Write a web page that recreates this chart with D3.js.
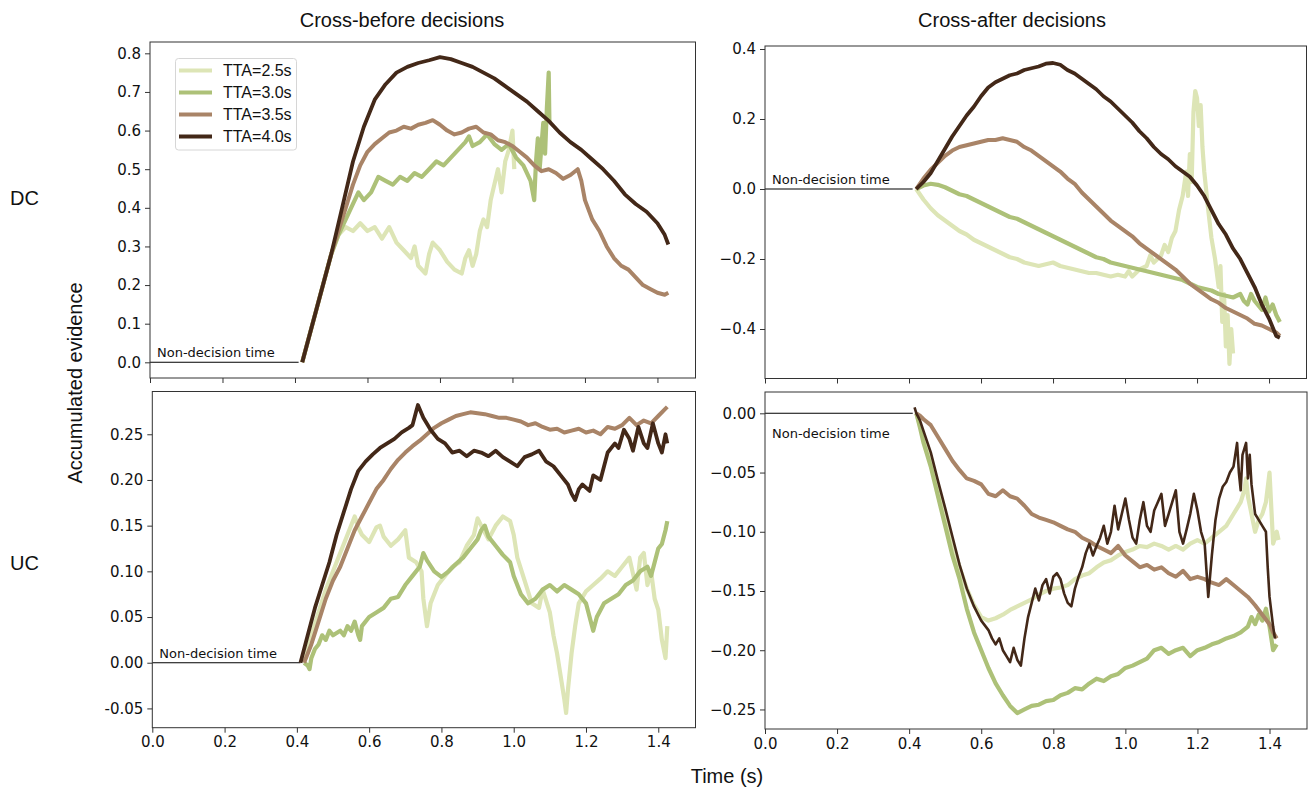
<!DOCTYPE html>
<html><head><meta charset="utf-8">
<script src="https://cdn.jsdelivr.net/npm/d3@7"></script>
<style>body{margin:0;background:#fff}svg{display:block}</style>
</head><body>
<svg id="chart" width="1309" height="790"></svg>
<script>
const seriesNames = ["TTA=2.5s","TTA=3.0s","TTA=3.5s","TTA=4.0s"];
const seriesColors = ["#dde5b6","#adc178","#a98467","#432818"];
const xTicks = [0.0,0.2,0.4,0.6,0.8,1.0,1.2,1.4];
const ticksDCBefore = [0.0,0.1,0.2,0.3,0.4,0.5,0.6,0.7,0.8];
const ticksDCAfter = [-0.4,-0.2,0.0,0.2,0.4];
const ticksUCBefore = [-0.05,0.00,0.05,0.10,0.15,0.20,0.25];
const ticksUCAfter = [-0.25,-0.20,-0.15,-0.10,-0.05,0.00];
const nonDecisionEnd = 0.41;

// DC, cross-before  [time, evidence]
const dcBefore25 = [[0.42,0],[0.46,0.14],[0.50,0.28],[0.52,0.33],[0.54,0.35],[0.56,0.34],[0.58,0.36],[0.60,0.34],[0.62,0.35],[0.64,0.32],[0.66,0.35],[0.68,0.31],[0.70,0.29],[0.72,0.27],[0.73,0.30],[0.74,0.25],[0.76,0.23],[0.77,0.28],[0.78,0.31],[0.80,0.29],[0.82,0.26],[0.84,0.24],[0.86,0.23],[0.87,0.27],[0.88,0.29],[0.89,0.25],[0.90,0.28],[0.91,0.34],[0.92,0.37],[0.93,0.35],[0.94,0.42],[0.95,0.46],[0.96,0.50],[0.97,0.44],[0.98,0.52],[0.99,0.55],[1.00,0.60],[1.005,0.50]];
const dcBefore30 = [[0.42,0],[0.46,0.14],[0.50,0.28],[0.52,0.33],[0.54,0.37],[0.56,0.41],[0.575,0.44],[0.59,0.42],[0.61,0.44],[0.63,0.48],[0.65,0.47],[0.67,0.46],[0.69,0.48],[0.71,0.47],[0.73,0.49],[0.75,0.48],[0.77,0.50],[0.79,0.52],[0.81,0.51],[0.83,0.53],[0.85,0.55],[0.87,0.57],[0.88,0.585],[0.89,0.56],[0.91,0.57],[0.93,0.59],[0.95,0.565],[0.97,0.55],[0.99,0.565],[1.01,0.53],[1.03,0.51],[1.05,0.47],[1.06,0.42],[1.065,0.52],[1.07,0.58],[1.075,0.50],[1.08,0.56],[1.085,0.62],[1.09,0.54],[1.095,0.66],[1.10,0.75],[1.102,0.62]];
const dcBefore35 = [[0.42,0],[0.46,0.14],[0.50,0.28],[0.52,0.34],[0.54,0.40],[0.56,0.46],[0.58,0.51],[0.60,0.545],[0.62,0.565],[0.64,0.58],[0.66,0.595],[0.68,0.60],[0.70,0.61],[0.72,0.605],[0.74,0.615],[0.76,0.62],[0.78,0.627],[0.80,0.615],[0.82,0.60],[0.84,0.59],[0.86,0.595],[0.88,0.605],[0.90,0.61],[0.92,0.595],[0.94,0.59],[0.96,0.575],[0.98,0.57],[1.00,0.56],[1.02,0.545],[1.04,0.53],[1.06,0.51],[1.08,0.495],[1.10,0.50],[1.12,0.49],[1.14,0.475],[1.16,0.485],[1.18,0.50],[1.19,0.47],[1.20,0.42],[1.22,0.37],[1.24,0.34],[1.26,0.30],[1.28,0.27],[1.30,0.25],[1.32,0.24],[1.34,0.22],[1.36,0.20],[1.38,0.19],[1.40,0.18],[1.42,0.175],[1.43,0.18]];
const dcBefore40 = [[0.42,0],[0.46,0.14],[0.50,0.28],[0.53,0.40],[0.56,0.52],[0.59,0.61],[0.62,0.68],[0.65,0.72],[0.68,0.75],[0.71,0.765],[0.74,0.775],[0.77,0.782],[0.80,0.79],[0.83,0.785],[0.86,0.775],[0.89,0.765],[0.92,0.75],[0.95,0.735],[0.98,0.715],[1.01,0.695],[1.04,0.675],[1.07,0.65],[1.10,0.625],[1.13,0.595],[1.16,0.57],[1.19,0.55],[1.22,0.525],[1.25,0.50],[1.28,0.47],[1.31,0.435],[1.34,0.41],[1.37,0.39],[1.40,0.36],[1.42,0.33],[1.43,0.305]];

// DC, cross-after
const dcAfter25 = [[0.42,0],[0.44,-0.03],[0.46,-0.055],[0.48,-0.075],[0.50,-0.09],[0.52,-0.105],[0.54,-0.12],[0.56,-0.13],[0.58,-0.145],[0.60,-0.155],[0.62,-0.165],[0.64,-0.175],[0.66,-0.185],[0.68,-0.195],[0.70,-0.20],[0.72,-0.21],[0.74,-0.215],[0.76,-0.22],[0.78,-0.215],[0.80,-0.21],[0.82,-0.22],[0.84,-0.225],[0.86,-0.23],[0.88,-0.235],[0.90,-0.24],[0.92,-0.24],[0.94,-0.245],[0.96,-0.25],[0.98,-0.245],[1.00,-0.25],[1.01,-0.235],[1.02,-0.25],[1.04,-0.23],[1.06,-0.22],[1.07,-0.19],[1.08,-0.21],[1.10,-0.19],[1.11,-0.16],[1.12,-0.18],[1.13,-0.14],[1.14,-0.12],[1.15,-0.06],[1.16,-0.02],[1.17,0.05],[1.175,-0.02],[1.18,0.10],[1.185,0.02],[1.19,0.22],[1.195,0.28],[1.20,0.26],[1.205,0.18],[1.21,0.24],[1.215,0.12],[1.22,0.05],[1.23,-0.05],[1.24,-0.14],[1.25,-0.20],[1.26,-0.28],[1.265,-0.22],[1.27,-0.38],[1.275,-0.30],[1.28,-0.45],[1.285,-0.36],[1.29,-0.50],[1.295,-0.40],[1.30,-0.47]];
const dcAfter30 = [[0.42,0],[0.44,0.01],[0.46,0.015],[0.48,0.012],[0.50,0.005],[0.52,-0.005],[0.54,-0.015],[0.56,-0.02],[0.58,-0.03],[0.60,-0.04],[0.62,-0.05],[0.64,-0.06],[0.66,-0.07],[0.68,-0.08],[0.70,-0.085],[0.72,-0.095],[0.74,-0.105],[0.76,-0.115],[0.78,-0.125],[0.80,-0.135],[0.82,-0.145],[0.84,-0.155],[0.86,-0.165],[0.88,-0.175],[0.90,-0.185],[0.92,-0.195],[0.94,-0.20],[0.96,-0.21],[0.98,-0.215],[1.00,-0.22],[1.02,-0.225],[1.04,-0.23],[1.06,-0.235],[1.08,-0.24],[1.10,-0.245],[1.12,-0.25],[1.14,-0.255],[1.16,-0.26],[1.18,-0.27],[1.20,-0.28],[1.22,-0.285],[1.24,-0.29],[1.26,-0.30],[1.28,-0.305],[1.30,-0.31],[1.32,-0.30],[1.33,-0.32],[1.34,-0.33],[1.35,-0.30],[1.36,-0.32],[1.38,-0.345],[1.39,-0.31],[1.40,-0.35],[1.41,-0.33],[1.42,-0.36],[1.43,-0.38]];
const dcAfter35 = [[0.42,0],[0.44,0.03],[0.46,0.055],[0.48,0.075],[0.50,0.095],[0.52,0.11],[0.54,0.12],[0.56,0.125],[0.58,0.13],[0.60,0.135],[0.62,0.14],[0.64,0.14],[0.66,0.145],[0.68,0.14],[0.70,0.135],[0.72,0.12],[0.74,0.11],[0.76,0.095],[0.78,0.08],[0.80,0.065],[0.82,0.05],[0.84,0.03],[0.86,0.015],[0.88,-0.01],[0.90,-0.03],[0.92,-0.05],[0.94,-0.07],[0.96,-0.09],[0.98,-0.105],[1.00,-0.12],[1.02,-0.135],[1.04,-0.155],[1.06,-0.17],[1.08,-0.185],[1.10,-0.20],[1.12,-0.215],[1.14,-0.23],[1.16,-0.25],[1.18,-0.27],[1.20,-0.285],[1.22,-0.30],[1.24,-0.315],[1.26,-0.325],[1.28,-0.34],[1.30,-0.35],[1.32,-0.36],[1.34,-0.37],[1.36,-0.385],[1.38,-0.39],[1.40,-0.40],[1.42,-0.41],[1.43,-0.42]];
const dcAfter40 = [[0.42,0],[0.44,0.02],[0.46,0.045],[0.48,0.08],[0.50,0.115],[0.52,0.15],[0.54,0.18],[0.56,0.21],[0.58,0.235],[0.60,0.265],[0.62,0.29],[0.64,0.305],[0.66,0.315],[0.68,0.325],[0.70,0.33],[0.72,0.34],[0.74,0.345],[0.76,0.35],[0.78,0.358],[0.80,0.36],[0.82,0.355],[0.84,0.34],[0.86,0.33],[0.88,0.315],[0.90,0.30],[0.92,0.285],[0.94,0.265],[0.96,0.25],[0.98,0.23],[1.00,0.21],[1.02,0.19],[1.04,0.165],[1.06,0.145],[1.08,0.12],[1.10,0.10],[1.12,0.085],[1.14,0.065],[1.16,0.05],[1.18,0.035],[1.20,0.01],[1.22,-0.02],[1.24,-0.06],[1.26,-0.10],[1.28,-0.13],[1.30,-0.17],[1.32,-0.20],[1.34,-0.24],[1.36,-0.28],[1.38,-0.33],[1.40,-0.37],[1.42,-0.42],[1.43,-0.425]];

// UC, cross-before
const ucBefore25 = [[0.42,0],[0.44,0.03],[0.46,0.055],[0.48,0.08],[0.50,0.10],[0.52,0.12],[0.54,0.14],[0.56,0.16],[0.57,0.148],[0.58,0.14],[0.60,0.132],[0.62,0.148],[0.63,0.15],[0.64,0.138],[0.66,0.128],[0.68,0.135],[0.70,0.145],[0.71,0.115],[0.73,0.11],[0.745,0.10],[0.75,0.07],[0.76,0.04],[0.77,0.065],[0.79,0.085],[0.81,0.095],[0.83,0.105],[0.85,0.11],[0.87,0.128],[0.89,0.14],[0.90,0.158],[0.91,0.15],[0.93,0.135],[0.95,0.15],[0.97,0.16],[0.99,0.155],[1.00,0.14],[1.01,0.115],[1.03,0.09],[1.05,0.065],[1.07,0.06],[1.08,0.08],[1.10,0.055],[1.11,0.03],[1.12,0.01],[1.13,-0.015],[1.14,-0.04],[1.145,-0.055],[1.15,-0.03],[1.16,0.01],[1.17,0.04],[1.18,0.065],[1.20,0.078],[1.22,0.085],[1.24,0.092],[1.26,0.10],[1.28,0.095],[1.30,0.105],[1.32,0.115],[1.34,0.08],[1.35,0.115],[1.36,0.12],[1.37,0.085],[1.38,0.10],[1.39,0.07],[1.40,0.058],[1.41,0.025],[1.42,0.005],[1.425,0.04]];
const ucBefore30 = [[0.42,0],[0.43,-0.003],[0.435,-0.007],[0.44,0.005],[0.45,0.015],[0.46,0.02],[0.47,0.03],[0.48,0.025],[0.49,0.035],[0.50,0.03],[0.52,0.035],[0.53,0.03],[0.54,0.04],[0.55,0.035],[0.56,0.045],[0.57,0.03],[0.575,0.025],[0.58,0.04],[0.60,0.05],[0.62,0.055],[0.64,0.06],[0.66,0.07],[0.68,0.072],[0.70,0.085],[0.72,0.095],[0.74,0.105],[0.75,0.12],[0.76,0.112],[0.78,0.10],[0.80,0.094],[0.82,0.10],[0.84,0.108],[0.86,0.115],[0.88,0.125],[0.90,0.135],[0.91,0.145],[0.92,0.15],[0.93,0.138],[0.95,0.128],[0.97,0.118],[0.99,0.11],[1.00,0.095],[1.02,0.075],[1.04,0.065],[1.06,0.07],[1.08,0.08],[1.10,0.085],[1.12,0.078],[1.14,0.085],[1.16,0.08],[1.18,0.075],[1.20,0.065],[1.21,0.05],[1.22,0.035],[1.23,0.05],[1.25,0.065],[1.27,0.07],[1.29,0.075],[1.31,0.085],[1.33,0.09],[1.35,0.10],[1.37,0.105],[1.38,0.095],[1.39,0.11],[1.40,0.125],[1.41,0.13],[1.42,0.145],[1.425,0.155]];
const ucBefore35 = [[0.42,0],[0.44,0.02],[0.46,0.045],[0.48,0.07],[0.50,0.09],[0.52,0.105],[0.54,0.125],[0.56,0.145],[0.58,0.16],[0.60,0.175],[0.62,0.19],[0.64,0.20],[0.66,0.212],[0.68,0.222],[0.70,0.23],[0.72,0.237],[0.74,0.243],[0.76,0.25],[0.78,0.257],[0.80,0.262],[0.82,0.266],[0.84,0.27],[0.86,0.272],[0.88,0.274],[0.90,0.273],[0.92,0.272],[0.94,0.27],[0.96,0.268],[0.98,0.268],[1.00,0.266],[1.02,0.264],[1.04,0.26],[1.06,0.262],[1.08,0.258],[1.10,0.255],[1.12,0.256],[1.14,0.252],[1.16,0.254],[1.18,0.256],[1.20,0.252],[1.22,0.254],[1.24,0.25],[1.26,0.258],[1.28,0.256],[1.30,0.26],[1.32,0.268],[1.34,0.26],[1.36,0.265],[1.38,0.262],[1.40,0.27],[1.42,0.278],[1.425,0.28]];
const ucBefore40 = [[0.41,0],[0.43,0.03],[0.45,0.06],[0.47,0.085],[0.49,0.11],[0.51,0.14],[0.53,0.165],[0.55,0.19],[0.57,0.21],[0.59,0.22],[0.61,0.228],[0.63,0.235],[0.65,0.24],[0.67,0.245],[0.69,0.252],[0.71,0.257],[0.72,0.26],[0.73,0.275],[0.735,0.282],[0.75,0.268],[0.77,0.255],[0.79,0.245],[0.81,0.24],[0.83,0.23],[0.85,0.232],[0.87,0.226],[0.89,0.232],[0.91,0.23],[0.93,0.226],[0.95,0.232],[0.97,0.225],[0.99,0.22],[1.01,0.215],[1.03,0.225],[1.05,0.228],[1.07,0.232],[1.09,0.22],[1.11,0.215],[1.13,0.205],[1.15,0.195],[1.16,0.185],[1.17,0.178],[1.18,0.19],[1.19,0.195],[1.21,0.188],[1.22,0.205],[1.24,0.20],[1.26,0.23],[1.28,0.24],[1.29,0.235],[1.305,0.255],[1.32,0.245],[1.33,0.232],[1.345,0.258],[1.36,0.24],[1.37,0.235],[1.385,0.262],[1.40,0.24],[1.41,0.23],[1.42,0.25],[1.425,0.24]];

// UC, cross-after
const ucAfter25 = [[0.42,0],[0.43,-0.01],[0.44,-0.02],[0.46,-0.042],[0.48,-0.065],[0.50,-0.09],[0.52,-0.11],[0.54,-0.13],[0.56,-0.148],[0.58,-0.162],[0.60,-0.172],[0.62,-0.175],[0.64,-0.173],[0.66,-0.17],[0.68,-0.166],[0.70,-0.163],[0.72,-0.16],[0.74,-0.157],[0.76,-0.153],[0.78,-0.15],[0.80,-0.148],[0.82,-0.147],[0.84,-0.145],[0.86,-0.14],[0.88,-0.137],[0.90,-0.135],[0.92,-0.13],[0.94,-0.126],[0.96,-0.124],[0.98,-0.12],[1.00,-0.117],[1.02,-0.115],[1.04,-0.112],[1.06,-0.113],[1.08,-0.11],[1.10,-0.112],[1.12,-0.115],[1.14,-0.112],[1.16,-0.115],[1.18,-0.11],[1.20,-0.107],[1.22,-0.11],[1.24,-0.105],[1.26,-0.10],[1.28,-0.095],[1.30,-0.085],[1.31,-0.08],[1.32,-0.075],[1.33,-0.065],[1.335,-0.055],[1.34,-0.07],[1.35,-0.085],[1.36,-0.10],[1.37,-0.09],[1.38,-0.085],[1.39,-0.075],[1.40,-0.05],[1.405,-0.08],[1.41,-0.11],[1.42,-0.10],[1.425,-0.107]];
const ucAfter30 = [[0.42,0],[0.43,-0.012],[0.44,-0.025],[0.46,-0.045],[0.48,-0.07],[0.50,-0.095],[0.52,-0.12],[0.54,-0.14],[0.56,-0.165],[0.58,-0.185],[0.60,-0.20],[0.62,-0.215],[0.64,-0.228],[0.66,-0.238],[0.68,-0.247],[0.70,-0.253],[0.72,-0.25],[0.74,-0.247],[0.76,-0.246],[0.78,-0.243],[0.80,-0.242],[0.82,-0.238],[0.84,-0.236],[0.86,-0.232],[0.88,-0.233],[0.90,-0.228],[0.92,-0.224],[0.94,-0.226],[0.96,-0.222],[0.98,-0.22],[1.00,-0.215],[1.02,-0.213],[1.04,-0.21],[1.06,-0.207],[1.08,-0.20],[1.10,-0.198],[1.12,-0.203],[1.14,-0.20],[1.16,-0.198],[1.18,-0.205],[1.20,-0.20],[1.22,-0.198],[1.24,-0.195],[1.26,-0.193],[1.28,-0.19],[1.30,-0.188],[1.32,-0.185],[1.34,-0.18],[1.35,-0.172],[1.36,-0.178],[1.37,-0.17],[1.38,-0.175],[1.39,-0.165],[1.40,-0.18],[1.41,-0.20],[1.42,-0.195]];
const ucAfter35 = [[0.42,0],[0.43,-0.002],[0.44,-0.005],[0.46,-0.01],[0.48,-0.02],[0.50,-0.03],[0.52,-0.04],[0.54,-0.048],[0.56,-0.055],[0.58,-0.057],[0.60,-0.06],[0.62,-0.068],[0.64,-0.07],[0.66,-0.065],[0.68,-0.07],[0.70,-0.072],[0.72,-0.078],[0.74,-0.085],[0.76,-0.088],[0.78,-0.09],[0.80,-0.092],[0.82,-0.095],[0.84,-0.098],[0.86,-0.10],[0.88,-0.105],[0.90,-0.108],[0.92,-0.112],[0.94,-0.115],[0.96,-0.118],[0.98,-0.112],[1.00,-0.12],[1.02,-0.125],[1.04,-0.13],[1.06,-0.128],[1.08,-0.132],[1.10,-0.13],[1.12,-0.135],[1.14,-0.138],[1.16,-0.133],[1.18,-0.14],[1.20,-0.138],[1.22,-0.14],[1.24,-0.143],[1.26,-0.145],[1.28,-0.14],[1.30,-0.145],[1.32,-0.15],[1.34,-0.155],[1.36,-0.162],[1.38,-0.17],[1.40,-0.178],[1.41,-0.185],[1.42,-0.19]];
const ucAfter40 = [[0.415,0.005],[0.42,0],[0.43,-0.006],[0.44,-0.015],[0.46,-0.033],[0.48,-0.057],[0.50,-0.08],[0.52,-0.104],[0.54,-0.128],[0.56,-0.148],[0.58,-0.163],[0.60,-0.175],[0.62,-0.183],[0.63,-0.19],[0.64,-0.195],[0.65,-0.19],[0.66,-0.20],[0.67,-0.205],[0.68,-0.21],[0.69,-0.198],[0.70,-0.208],[0.71,-0.213],[0.72,-0.19],[0.73,-0.172],[0.74,-0.16],[0.75,-0.148],[0.76,-0.158],[0.77,-0.145],[0.78,-0.14],[0.79,-0.152],[0.80,-0.138],[0.81,-0.135],[0.82,-0.14],[0.83,-0.152],[0.84,-0.16],[0.85,-0.163],[0.86,-0.148],[0.87,-0.138],[0.88,-0.13],[0.89,-0.118],[0.90,-0.11],[0.91,-0.12],[0.92,-0.112],[0.93,-0.105],[0.94,-0.095],[0.95,-0.11],[0.96,-0.10],[0.97,-0.078],[0.98,-0.098],[0.99,-0.085],[1.00,-0.072],[1.01,-0.09],[1.02,-0.105],[1.03,-0.11],[1.04,-0.09],[1.05,-0.075],[1.06,-0.095],[1.07,-0.10],[1.08,-0.082],[1.09,-0.075],[1.10,-0.068],[1.11,-0.095],[1.12,-0.085],[1.13,-0.075],[1.14,-0.065],[1.15,-0.10],[1.16,-0.11],[1.17,-0.098],[1.18,-0.085],[1.19,-0.068],[1.20,-0.082],[1.21,-0.10],[1.22,-0.11],[1.23,-0.155],[1.24,-0.12],[1.25,-0.09],[1.26,-0.072],[1.27,-0.062],[1.28,-0.058],[1.29,-0.05],[1.30,-0.045],[1.31,-0.025],[1.315,-0.05],[1.32,-0.065],[1.325,-0.035],[1.33,-0.03],[1.335,-0.025],[1.34,-0.055],[1.345,-0.035],[1.35,-0.06],[1.36,-0.085],[1.37,-0.09],[1.38,-0.095],[1.39,-0.10],[1.395,-0.13],[1.40,-0.155],[1.41,-0.18],[1.415,-0.19]];

const panels = [
  {data:[dcBefore25,dcBefore30,dcBefore35,dcBefore40], box:[150,695.5,42,378], x:[0,1.505], y:[-0.0406,0.8293], ticks:ticksDCBefore, fmt:v=>v.toFixed(1), showX:false, ndBelow:false, legend:true, widths:[4.2,4.2,4,3.8]},
  {data:[dcAfter25,dcAfter30,dcAfter35,dcAfter40], box:[765,1306.5,46,378.5], x:[0,1.504], y:[-0.5414,0.4086], ticks:ticksDCAfter, fmt:v=>(v<0?"\u2212":"")+Math.abs(v).toFixed(1), showX:false, ndBelow:false, legend:false, widths:[4.2,4.2,4,3.8]},
  {data:[ucBefore25,ucBefore30,ucBefore35,ucBefore40], box:[152.3,695.5,391.5,727.7], x:[0,1.503], y:[-0.0711,0.2968], ticks:ticksUCBefore, fmt:v=>v.toFixed(2), showX:true, ndBelow:false, legend:false, widths:[4.2,4.2,4,3.8]},
  {data:[ucAfter25,ucAfter30,ucAfter35,ucAfter40], box:[765,1307,392,729], x:[0,1.504], y:[-0.2665,0.018], ticks:ticksUCAfter, fmt:v=>(v<0?"\u2212":"")+Math.abs(v).toFixed(2), showX:true, ndBelow:true, legend:false, widths:[4.2,4.2,4,2.6]}
];

const svg = d3.select("#chart");
const tickFont = "'DejaVu Sans', sans-serif";
const labelFont = "'Liberation Sans', Arial, sans-serif";
const spineColor = "#333";

panels.forEach((p,i) => {
  const [l,r,t,b] = p.box;
  const xs = d3.scaleLinear().domain(p.x).range([l,r]);
  const ys = d3.scaleLinear().domain(p.y).range([b,t]);
  const g = svg.append("g");
  const clipId = "clip"+i;
  svg.append("clipPath").attr("id",clipId).append("rect").attr("x",l).attr("y",t).attr("width",r-l).attr("height",b-t);

  // non-decision line
  g.append("line").attr("x1",xs(0)).attr("x2",xs(nonDecisionEnd)).attr("y1",ys(0)).attr("y2",ys(0))
    .attr("stroke","#000").attr("stroke-width",1.1);
  g.append("text").attr("x",xs(0)+7).attr("y",p.ndBelow?ys(0)+25:ys(0)-5)
    .attr("font-family",tickFont).attr("font-size",13).attr("fill","#111").text("Non-decision time");

  const line = d3.line().x(d=>xs(d[0])).y(d=>ys(d[1]));
  const lg = g.append("g").attr("clip-path",`url(#${clipId})`);
  p.data.forEach((s,k) => {
    lg.append("path").datum(s).attr("d",line).attr("fill","none")
      .attr("stroke",seriesColors[k]).attr("stroke-width",p.widths[k])
      .attr("stroke-linejoin","round").attr("stroke-linecap","butt");
  });

  // axes
  const xAxis = d3.axisBottom(xs).tickValues(xTicks).tickSize(5).tickPadding(4)
    .tickFormat(p.showX ? (v=>v.toFixed(1)) : (()=>""));
  const ga = g.append("g").attr("transform",`translate(0,${b})`).call(xAxis);
  const yAxis = d3.axisLeft(ys).tickValues(p.ticks).tickSize(5).tickPadding(4).tickFormat(p.fmt);
  const gy = g.append("g").attr("transform",`translate(${l},0)`).call(yAxis);
  [ga,gy].forEach(a => {
    a.select(".domain").remove();
    a.selectAll("line").attr("stroke",spineColor).attr("stroke-width",1);
    a.selectAll("text").attr("font-family",tickFont).attr("font-size",15).attr("fill","#111");
  });
  g.append("rect").attr("x",l).attr("y",t).attr("width",r-l).attr("height",b-t)
    .attr("fill","none").attr("stroke",spineColor).attr("stroke-width",1);

  if (p.legend) {
    const lgd = g.append("g");
    lgd.append("rect").attr("x",175.5).attr("y",58.5).attr("width",121).attr("height",91.5).attr("rx",3)
      .attr("fill","#fff").attr("fill-opacity",0.85).attr("stroke","#d6d6d6").attr("stroke-width",1);
    seriesNames.forEach((n,k) => {
      const yy = 70.5 + k*22;
      lgd.append("line").attr("x1",179).attr("x2",212).attr("y1",yy).attr("y2",yy)
        .attr("stroke",seriesColors[k]).attr("stroke-width",4.2);
      lgd.append("text").attr("x",223).attr("y",yy+5.5).attr("font-family",labelFont).attr("font-size",16)
        .attr("fill","#111").text(n);
    });
  }
});

// Titles and labels
const txt = (x,y,s,opts={}) => svg.append("text").attr("x",x).attr("y",y).attr("font-family",labelFont)
  .attr("font-size",opts.size||20).attr("fill","#111").attr("text-anchor",opts.anchor||"middle")
  .attr("transform",opts.rot?`rotate(-90,${x},${y})`:null).text(s);
txt(402,27,"Cross-before decisions");
txt(1012,27,"Cross-after decisions");
txt(727,783,"Time (s)");
txt(10,205,"DC",{anchor:"start"});
txt(10,570,"UC",{anchor:"start"});
txt(82,383,"Accumulated evidence",{rot:true});
</script>
</body></html>
